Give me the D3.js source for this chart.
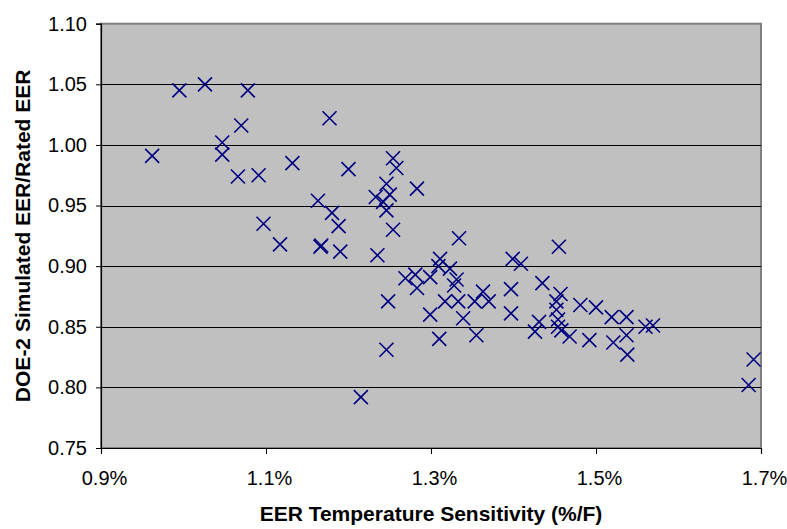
<!DOCTYPE html>
<html><head><meta charset="utf-8">
<script src="https://cdn.jsdelivr.net/npm/d3@7"></script>
<style>body{margin:0;background:#fff}svg{display:block}text{font-family:"Liberation Sans",Arial,sans-serif}</style>
</head><body>
<script>
// Data (x = EER temperature sensitivity in %/F, y = simulated/rated EER)
const sensitivity = [0.962,0.995,1.026,1.078,1.070,1.047,1.047,1.066,1.091,1.132,1.097,1.117,1.163,1.180,1.188,1.167,1.166,1.190,1.177,1.200,
1.254,1.258,1.246,1.283,1.233,1.250,1.242,1.246,1.254,1.235,1.334,1.311,1.309,1.323,1.281,1.269,1.299,1.331,1.328,1.283,
1.363,1.370,1.353,1.317,1.333,1.248,1.299,1.339,1.310,1.355,1.246,1.215,1.455,1.399,1.409,1.435,1.397,1.457,1.452,1.452,
1.481,1.500,1.519,1.537,1.397,1.431,1.454,1.426,1.454,1.458,1.468,1.492,1.521,1.537,1.538,1.560,1.569,1.691,1.685];
const eerRatio = [0.991,1.045,1.050,1.045,1.016,1.002,0.992,0.974,0.975,0.985,0.935,0.918,0.954,0.944,0.933,0.917,0.916,0.912,1.022,0.980,
0.989,0.981,0.968,0.964,0.957,0.959,0.953,0.946,0.930,0.909,0.923,0.906,0.900,0.898,0.893,0.890,0.891,0.889,0.884,0.882,
0.879,0.871,0.871,0.871,0.871,0.871,0.860,0.857,0.840,0.843,0.831,0.792,0.916,0.906,0.902,0.886,0.881,0.877,0.871,0.864,
0.868,0.866,0.858,0.858,0.861,0.854,0.856,0.846,0.850,0.847,0.842,0.839,0.837,0.843,0.827,0.850,0.851,0.823,0.802];
const xTicks = [0.9,1.1,1.3,1.5,1.7];
const yTicks = [0.75,0.80,0.85,0.90,0.95,1.00,1.05,1.10];
const xTitle = "EER Temperature Sensitivity (%/F)";
const yTitle = "DOE-2 Simulated EER/Rated EER";

const W=787,H=529;
const m={left:101,top:23.7,right:761,bottom:448};
const svg=d3.select("body").append("svg").attr("width",W).attr("height",H);
const x=d3.scaleLinear().domain([0.9,1.7]).range([m.left,m.right]);
const y=d3.scaleLinear().domain([0.75,1.10]).range([m.bottom,m.top]);

svg.append("rect").attr("x",m.left).attr("y",m.top).attr("width",m.right-m.left).attr("height",m.bottom-m.top)
  .attr("fill","#c0c0c0").attr("stroke","#808080").attr("stroke-width",2);

// gridlines
svg.append("g").selectAll("line").data(yTicks.slice(1,-1)).join("line")
  .attr("x1",m.left).attr("x2",m.right).attr("y1",d=>Math.round(y(d))+0.5).attr("y2",d=>Math.round(y(d))+0.5)
  .attr("stroke","#000").attr("stroke-width",1);

// axes
const yAxis=d3.axisLeft(y).tickValues(yTicks).tickFormat(d3.format(".2f")).tickSize(5).tickPadding(9);
const gy=svg.append("g").attr("transform",`translate(${m.left},0)`).call(yAxis);
const xAxis=d3.axisBottom(x).tickValues(xTicks).tickFormat(d=>d3.format(".1f")(d)+"%").tickSize(6).tickPadding(17);
const gx=svg.append("g").attr("transform",`translate(0,${m.bottom})`).call(xAxis);
[gx,gy].forEach(g=>{
  g.attr("font-size",null).attr("font-family",null);
  g.select(".domain").attr("stroke","#000").attr("stroke-width",1.2);
  g.selectAll(".tick line").attr("stroke","#000");
  g.selectAll(".tick text").style("font-size","20px").style("font-family","'Liberation Sans', Arial, sans-serif").attr("fill","#000");
});
gx.selectAll(".tick text").attr("dy","0.71em").attr("dx",3);

// markers
const pts=sensitivity.map((s,i)=>[s,eerRatio[i]]);
const r=7;
svg.append("g").selectAll("path").data(pts).join("path")
  .attr("d",d=>{const cx=x(d[0]),cy=y(d[1]);return `M${cx-r},${cy-r}L${cx+r},${cy+r}M${cx-r},${cy+r}L${cx+r},${cy-r}`;})
  .attr("stroke","#000080").attr("stroke-width",1.6).attr("fill","none");

// titles
svg.append("text").attr("x",431).attr("y",521).attr("text-anchor","middle")
  .style("font-size","21px").attr("font-weight","bold").text(xTitle);
svg.append("text").attr("transform",`translate(30,${(m.top+m.bottom)/2}) rotate(-90)`).attr("text-anchor","middle")
  .style("font-size","21px").attr("font-weight","bold").text(yTitle);
</script>
</body></html>
